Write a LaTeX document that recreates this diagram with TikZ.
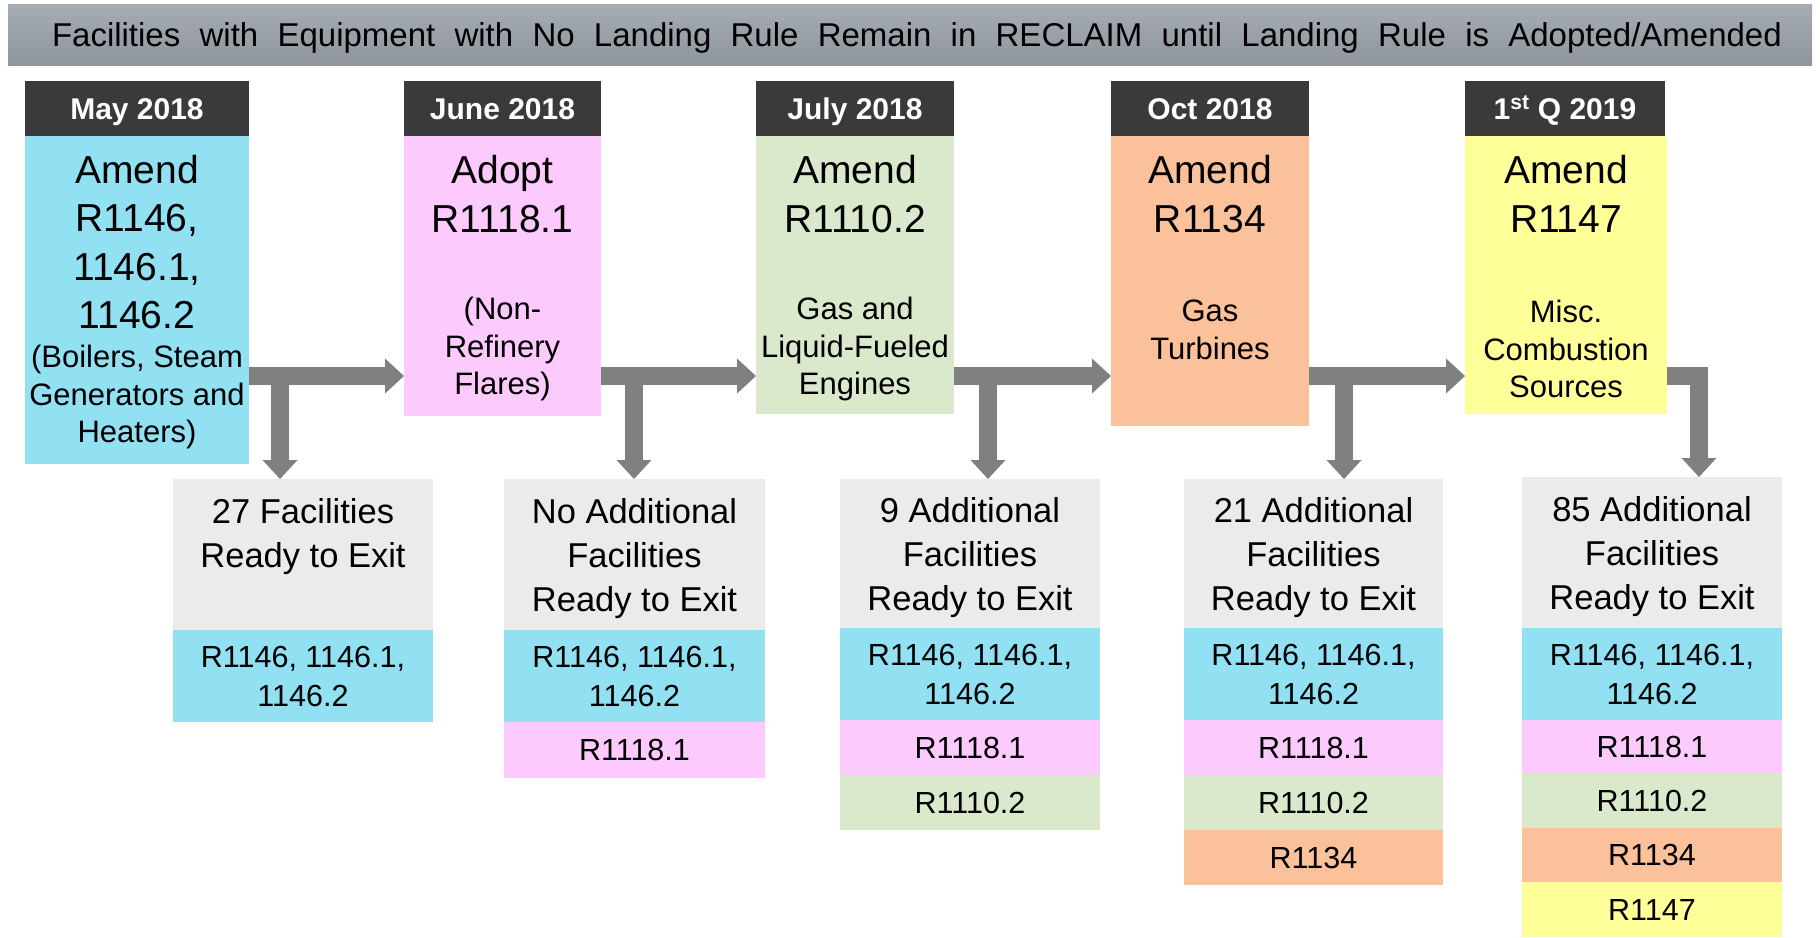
\documentclass[tikz,border=0pt]{standalone}
\usepackage{fontspec}
\setmainfont{Liberation Sans}
\usetikzlibrary{arrows.meta}
\definecolor{hdr}{HTML}{3A3A3A}
\definecolor{cy}{RGB}{145,225,242}
\definecolor{pk}{RGB}{252,202,252}
\definecolor{gn}{RGB}{218,233,204}
\definecolor{og}{RGB}{251,193,154}
\definecolor{yl}{RGB}{255,255,153}
\definecolor{gbox}{HTML}{EBEBEB}
\definecolor{arrgray}{HTML}{808080}
\definecolor{bartop}{HTML}{A6ACB4}
\definecolor{barbot}{HTML}{8F959D}
\newcommand\mybox[7]{%
  \pgfmathsetmacro\bw{#5-#3}\pgfmathsetmacro\bh{#6-#4}%
  \node[box,fill=#2,minimum width=\bw pt,minimum height=\bh pt] (#1) at (#3,#4) {#7};}
\tikzset{
  box/.style={draw=none,inner sep=0pt,outer sep=0pt,anchor=north west,align=center,
    font={\fontsize{30.5}{39}\selectfont}},
  hdrtxt/.style={anchor=base,inner sep=0pt,text=white,font={\fontsize{30}{36}\selectfont\bfseries}},
  bigtxt/.style={inner sep=0pt,align=center,font={\fontsize{39}{48.4}\selectfont}},
  smalltxt/.style={inner sep=0pt,align=center,font={\fontsize{31}{37.7}\selectfont}},
  graytxt/.style={inner sep=0pt,align=center,font={\fontsize{34.5}{44}\selectfont}},
  arr/.style={draw=arrgray,line width=18pt,line join=miter,
    -{Triangle[length=19pt,width=35pt,line width=0pt]}},
}
\begin{document}
\begin{tikzpicture}[x=1pt,y=-1pt]
\useasboundingbox (0,0) rectangle (1820,937);
% title bar
\node[box,top color=bartop,bottom color=barbot,minimum width=1804pt,minimum height=61pt] (title) at (8,4) {};
\node[inner sep=0pt,font={\fontsize{33}{40}\selectfont}] (titletxt) at (917,38) {\makebox[1730pt][s]{Facilities with Equipment with No Landing Rule Remain in RECLAIM until Landing Rule is Adopted/Amended}};
% headers
\mybox{h1}{hdr}{25}{81}{249}{136}{}
\mybox{h2}{hdr}{404}{81}{601}{136}{}
\mybox{h3}{hdr}{756}{81}{954}{136}{}
\mybox{h4}{hdr}{1111}{81}{1309}{136}{}
\mybox{h5}{hdr}{1465}{81}{1665}{136}{}
\node[hdrtxt] (h1t) at (h1.center |- 0,119) {May 2018};
\node[hdrtxt] (h2t) at (h2.center |- 0,119) {June 2018};
\node[hdrtxt] (h3t) at (h3.center |- 0,119) {July 2018};
\node[hdrtxt] (h4t) at (h4.center |- 0,119) {Oct 2018};
\node[hdrtxt] (h5t) at (h5.center |- 0,119) {1\textsuperscript{st} Q 2019};
% bodies
\mybox{c1}{cy}{25}{136}{249}{464}{}
\mybox{c2}{pk}{404}{136}{601}{416}{}
\mybox{c3}{gn}{756}{136}{954}{414}{}
\mybox{c4}{og}{1111}{136}{1309}{426}{}
\mybox{c5}{yl}{1465}{136}{1667}{414}{}
\node[bigtxt] (c1a) at (137,242) {Amend\\R1146,\\1146.1,\\1146.2};
\node[smalltxt] (c1b) at (137,397) {(Boilers, Steam\\Generators and\\Heaters)};
\node[bigtxt] (c2a) at (502.5,194) {Adopt\\R1118.1};
\node[smalltxt] (c2b) at (502.5,349) {(Non-\\Refinery\\Flares)};
\node[bigtxt] (c3a) at (855,194) {Amend\\R1110.2};
\node[smalltxt] (c3b) at (855,349) {Gas and\\Liquid-Fueled\\Engines};
\node[bigtxt] (c4a) at (1210,194) {Amend\\R1134};
\node[smalltxt] (c4b) at (1210,330) {Gas\\Turbines};
\node[bigtxt] (c5a) at (1566,194) {Amend\\R1147};
\node[smalltxt] (c5b) at (1566,349) {Misc.\\Combustion\\Sources};
% bottom boxes
\mybox{b1}{gbox}{173}{479}{433}{630}{}
\mybox{b1c}{cy}{173}{630}{433}{722}{R1146, 1146.1,\\1146.2}
\node[graytxt] (b1t) at (303,537) {27 Facilities\\Ready to Exit};

\mybox{b2}{gbox}{504}{479}{765}{630}{}
\mybox{b2c}{cy}{504}{630}{765}{722}{R1146, 1146.1,\\1146.2}
\mybox{b2p}{pk}{504}{722}{765}{778}{R1118.1}
\node[graytxt] (b2t) at (634.5,559) {No Additional\\Facilities\\Ready to Exit};

\mybox{b3}{gbox}{840}{479}{1100}{628}{}
\mybox{b3c}{cy}{840}{628}{1100}{720}{R1146, 1146.1,\\1146.2}
\mybox{b3p}{pk}{840}{720}{1100}{775}{R1118.1}
\mybox{b3g}{gn}{840}{775}{1100}{830}{R1110.2}
\node[graytxt] (b3t) at (970,558) {9 Additional\\Facilities\\Ready to Exit};

\mybox{b4}{gbox}{1184}{479}{1443}{628}{}
\mybox{b4c}{cy}{1184}{628}{1443}{720}{R1146, 1146.1,\\1146.2}
\mybox{b4p}{pk}{1184}{720}{1443}{775}{R1118.1}
\mybox{b4g}{gn}{1184}{775}{1443}{830}{R1110.2}
\mybox{b4o}{og}{1184}{830}{1443}{885}{R1134}
\node[graytxt] (b4t) at (1313.5,558) {21 Additional\\Facilities\\Ready to Exit};

\mybox{b5}{gbox}{1522}{477}{1782}{628}{}
\mybox{b5c}{cy}{1522}{628}{1782}{720}{R1146, 1146.1,\\1146.2}
\mybox{b5p}{pk}{1522}{720}{1782}{773}{R1118.1}
\mybox{b5g}{gn}{1522}{773}{1782}{828}{R1110.2}
\mybox{b5o}{og}{1522}{828}{1782}{882}{R1134}
\mybox{b5y}{yl}{1522}{882}{1782}{937}{R1147}
\node[graytxt] (b5t) at (1652,557) {85 Additional\\Facilities\\Ready to Exit};
% arrows
\coordinate (j1) at (280,376);
\coordinate (j2) at (634,376);
\coordinate (j3) at (988,376);
\coordinate (j4) at (1344,376);
\coordinate (j5) at (1699,376);
\draw[arr] (c1.east |- j1) -- (c2.west |- j1);
\draw[arr] (c2.east |- j2) -- (c3.west |- j2);
\draw[arr] (c3.east |- j3) -- (c4.west |- j3);
\draw[arr] (c4.east |- j4) -- (c5.west |- j4);
\draw[arr] (j1) -- (j1 |- b1.north);
\draw[arr] (j2) -- (j2 |- b2.north);
\draw[arr] (j3) -- (j3 |- b3.north);
\draw[arr] (j4) -- (j4 |- b4.north);
\draw[arr] (c5.east |- j5) -- (j5) -- (j5 |- b5.north);
\end{tikzpicture}
\end{document}
